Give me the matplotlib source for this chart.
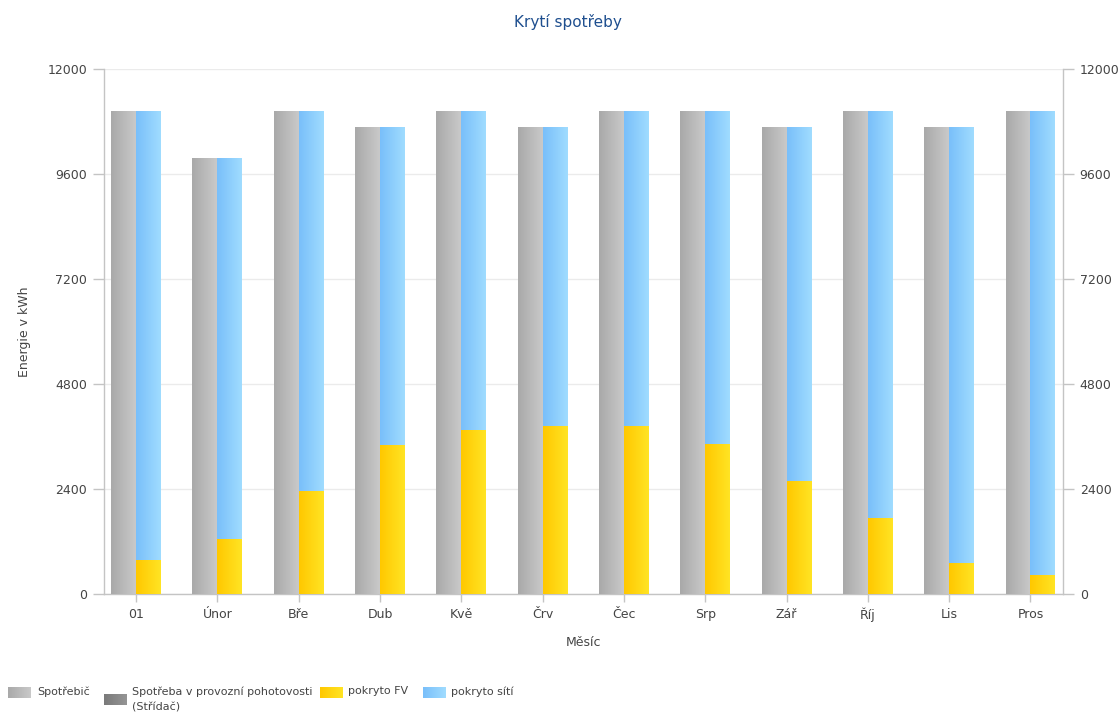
import numpy as np
import matplotlib
matplotlib.use("Agg")
import matplotlib.pyplot as plt
from matplotlib.colors import LinearSegmentedColormap

months = ["01", "Únor", "Bře", "Dub", "Kvě", "Črv", "Čec", "Srp", "Zář", "Říj", "Lis", "Pros"]
spotrebic = [11040, 9972, 11040, 10684, 11040, 10684, 11040, 11040, 10684, 11040, 10684, 11040]
pohotovost = [0] * 12
pokryto_fv = [777, 1257, 2354, 3398, 3749, 3840, 3840, 3429, 2583, 1745, 716, 427]
pokryto_site = [t - f for t, f in zip(spotrebic, pokryto_fv)]
yticks = [0, 2400, 4800, 7200, 9600, 12000]
series_names = ["Spotřebič", "Spotřeba v provozní pohotovosti\n(Střídač)", "pokryto FV", "pokryto sítí"]
series_grads = [("#a9a9a9", "#c9c9c9"), ("#7a7a7a", "#959595"),
                ("#ffc800", "#ffe424"), ("#79bffa", "#a0dcff")]

plt.rcParams['font.family'] = ['DejaVu Sans']
fig = plt.figure(figsize=(11.2, 7.14), dpi=100)
ax = fig.add_axes([104/1120, 1 - 594/714, (1063-104)/1120, (594-69)/714])

x = np.arange(len(months))
w = 0.307
axis_col = "#c4c4c4"
text_col = "#444444"

def make_cmap(c):
    return LinearSegmentedColormap.from_list("g", list(c))

grad = np.linspace(0, 1, 64).reshape(1, -1)

def grad_bars(bars, c):
    cmap = make_cmap(c)
    for b in bars:
        x0, y0 = b.get_x(), b.get_y()
        bw, bh = b.get_width(), b.get_height()
        if bh <= 0:
            continue
        im = ax.imshow(grad, cmap=cmap, extent=[x0, x0 + bw, y0, y0 + bh],
                       aspect='auto', origin='lower', zorder=3, interpolation='bilinear')
        im.set_clip_path(b)

b1 = ax.bar(x - w/2, spotrebic, w, color='none', linewidth=0, zorder=2)
b2 = ax.bar(x - w/2, pohotovost, w, bottom=spotrebic, color='none', linewidth=0, zorder=2)
b3 = ax.bar(x + w/2, pokryto_fv, w, color='none', linewidth=0, zorder=2)
b4 = ax.bar(x + w/2, pokryto_site, w, bottom=pokryto_fv, color='none', linewidth=0, zorder=2)
for bars, c in zip([b1, b2, b3, b4], series_grads):
    grad_bars(bars, c)

ax.set_xlim(-0.394, 11.40)
ax.set_ylim(0, 12000)
ax.set_yticks(yticks)
ax.set_yticklabels([str(v) for v in yticks])
ax.set_xticks(x)
ax.set_xticklabels(months)
ax.grid(axis='y', color='#ebebeb', linewidth=1, zorder=0)
ax.set_axisbelow(True)
ax.spines['top'].set_visible(False)
for s in ['left', 'right', 'bottom']:
    ax.spines[s].set_color(axis_col)
    ax.spines[s].set_linewidth(1)
ax.tick_params(axis='both', colors=axis_col, labelcolor=text_col, labelsize=9, length=8, width=1)
ax.tick_params(axis='y', right=True, labelright=True, pad=4)
ax.tick_params(axis='x', length=6, pad=4)

ax.set_xlabel("Měsíc", fontsize=9, color=text_col, labelpad=10)
ax.set_ylabel("Energie v kWh", fontsize=9, color=text_col, labelpad=12)
fig.text(568/1120, 1 - 22/714, "Krytí spotřeby", ha='center', va='center', fontsize=11, color='#1f4f8f')

# manual legend (pixel coordinates overlay)
lax = fig.add_axes([0, 0, 1, 1])
lax.axis('off')
leg_pos = [(8, 687, 37), (104, 694, 132), (320, 687, 348), (423, 687, 451)]
for (sx, sy, tx), name, c in zip(leg_pos, series_names, series_grads):
    lax.imshow(grad, cmap=make_cmap(c), extent=[sx, sx + 23, sy + 11, sy],
               aspect='auto', interpolation='bilinear')
    lax.text(tx, 686.5, name, ha='left', va='top', fontsize=8, color=text_col, linespacing=1.7)
lax.set_xlim(0, 1120)
lax.set_ylim(714, 0)

fig.savefig("out.png", dpi=100, facecolor='white')
